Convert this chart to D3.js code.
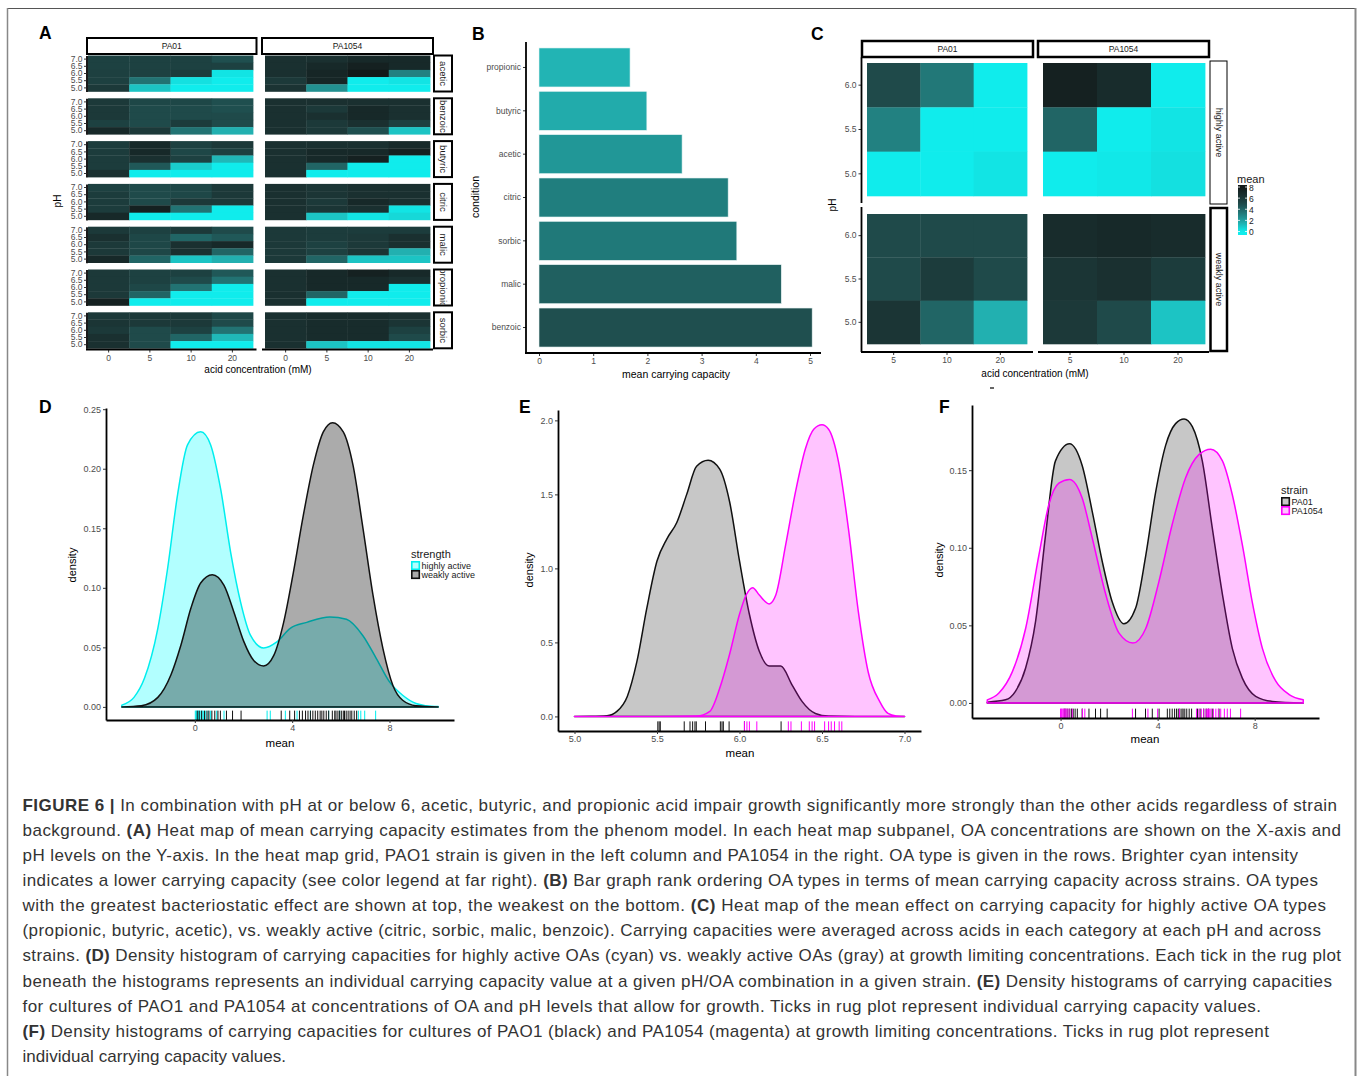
<!DOCTYPE html>
<html><head><meta charset="utf-8">
<script src="https://cdn.jsdelivr.net/npm/d3@7"></script>
<style>
body{margin:0;background:#fff}
svg{display:block}
text{font-family:"Liberation Sans",Arial,Helvetica,sans-serif}
</style>
</head><body>
<svg id="fig" width="1357" height="1076"></svg>
<script>
// ---------------- DATA ----------------
const acids = ["acetic","benzoic","butyric","citric","malic","propionic","sorbic"];
const strains = ["PA01","PA1054"];
const concLabels = ["0","5","10","20"];
const phLabels = ["7.0","6.5","6.0","5.5","5.0"]; // top to bottom

// Panel A: mean carrying capacity, rows pH 7.0 -> 5.0, columns 0,5,10,20 mM
const aceticPA01   = [[5.5,5.5,5.5,4.8],[5.5,5.5,5.5,5.5],[5.6,5.5,5.8,0.2],[5.6,3.5,0.3,0],[6.0,1.0,0,0]];
const aceticPA1054 = [[6.5,6.5,7.0,7.0],[6.5,7.0,7.5,7.0],[6.5,7.2,8.0,3.0],[6.0,7.2,0,0.2],[6.3,2.5,0,0]];
const benzoicPA01   = [[6.0,5.2,5.2,4.8],[6.0,5.0,5.0,4.8],[6.0,5.0,5.0,5.0],[5.5,5.0,5.8,5.0],[7.0,6.0,3.5,1.5]];
const benzoicPA1054 = [[6.5,6.5,6.5,6.5],[6.5,6.0,7.0,6.5],[6.5,6.5,7.0,6.5],[6.5,6.0,6.5,5.5],[6.5,6.0,4.8,1.0]];
const butyricPA01   = [[5.8,7.0,5.5,6.0],[5.8,7.0,5.2,5.5],[5.8,6.5,5.5,1.3],[5.8,4.5,0.8,0],[6.5,0,0,0]];
const butyricPA1054 = [[6.5,6.5,6.5,7.0],[6.5,7.0,7.0,7.5],[6.5,7.0,7.5,0],[6.5,4.0,0,0],[6.5,0,0,0]];
const citricPA01   = [[5.5,5.0,5.2,6.0],[5.8,5.0,5.2,6.0],[5.8,5.0,6.0,6.0],[5.8,7.5,3.5,0],[7.0,0,0,0]];
const citricPA1054 = [[6.5,6.2,6.5,6.5],[6.5,6.2,6.5,6.5],[6.5,6.0,7.0,6.5],[6.5,6.2,6.5,0.2],[6.5,1.0,0.2,0.5]];
const malicPA01   = [[6.0,5.5,6.0,5.0],[6.5,5.2,4.0,4.5],[6.0,5.2,6.5,7.0],[6.0,5.2,6.5,4.0],[7.0,4.0,1.0,1.5]];
const malicPA1054 = [[6.0,5.8,5.8,5.8],[6.0,5.8,6.0,6.5],[6.0,5.5,6.0,6.5],[6.0,5.5,6.2,1.5],[6.0,4.0,1.0,1.0]];
const propionicPA01   = [[6.0,5.5,5.5,4.5],[6.0,5.5,5.0,3.5],[6.0,5.2,3.5,0],[6.0,4.0,0,0],[7.5,0,0,0]];
const propionicPA1054 = [[6.5,7.0,7.5,7.0],[6.5,7.0,7.0,6.5],[6.5,7.0,7.0,0],[6.5,4.0,0,0],[6.5,0,0,0]];
const sorbicPA01   = [[6.0,6.0,6.0,5.2],[6.2,6.0,6.0,5.0],[6.0,5.0,5.5,3.5],[6.5,5.0,4.0,1.3],[6.5,5.0,0,0]];
const sorbicPA1054 = [[6.5,6.8,6.8,6.5],[6.5,6.8,6.8,6.2],[6.5,6.8,6.8,5.5],[6.5,6.8,6.8,5.0],[6.5,1.0,0.2,0.2]];

// Panel B
const barCats = ["propionic","butyric","acetic","citric","sorbic","malic","benzoic"];
const barVals = [1.68,1.99,2.64,3.49,3.65,4.47,5.04];
const barTicks = [0,1,2,3,4,5];

// Panel C: rows pH 6.0 -> 5.0, columns 5,10,20 mM
const strengths = ["highly active","weakly active"];
const concC = ["5","10","20"];
const phC = ["6.0","5.5","5.0"];
const highPA01   = [[5.0,3.3,0],[3.0,0,0],[0,0,0.2]];
const highPA1054 = [[7.5,6.8,0],[4.0,0,0.2],[0,0.1,0.3]];
const weakPA01   = [[5.0,5.0,5.0],[5.0,5.8,5.0],[6.2,4.0,1.5]];
const weakPA1054 = [[6.8,7.0,6.8],[6.2,6.5,5.8],[6.0,5.0,1.0]];
const legendTicks = [0,2,4,6,8];

// Panel D: densities
const dHighX = [-3,-2.5,-2.07,-1.52,-1.12,-0.71,-0.3,0.24,0.65,1.06,1.47,1.88,2.29,2.83,3.37,3.92,4.6,5.55,6.23,6.9,7.46,8.0,8.54,9.09,9.5,10];
const dHighY = [0.0015,0.008,0.024,0.066,0.116,0.178,0.22,0.231,0.22,0.183,0.130,0.088,0.060,0.0495,0.0546,0.066,0.071,0.0755,0.0736,0.060,0.0406,0.021,0.0098,0.0028,0.001,0.0003];
const dWeakX = [-3,-2.2,-1.52,-0.98,-0.57,-0.16,0.24,0.72,1.2,1.6,2.01,2.42,2.83,3.24,3.65,4.05,4.46,4.87,5.28,5.66,6.1,6.5,6.91,7.32,7.73,8.14,8.54,9.09,10];
const dWeakY = [0,0.001,0.008,0.027,0.052,0.083,0.104,0.111,0.102,0.080,0.055,0.039,0.0344,0.043,0.071,0.113,0.161,0.203,0.231,0.2387,0.231,0.203,0.150,0.094,0.049,0.018,0.0056,0.001,0];
const rugDHigh = [0.02,0.05,0.08,0.12,0.15,0.2,0.25,0.3,0.35,0.45,0.55,0.65,0.9,1.2,2.97,3.1,3.72,4.2,4.75,5.5,5.95,6.72,6.82,6.98,7.43];
const rugDWeak = [0.1,0.18,0.28,0.4,0.5,0.58,0.7,0.82,0.95,1.05,1.3,1.55,1.9,3.55,3.9,4.1,4.3,4.42,4.55,4.65,4.75,4.85,4.95,5.05,5.15,5.22,5.3,5.4,5.5,5.65,5.75,5.8,5.88,5.95,6.02,6.1,6.15,6.22,6.3,6.38,6.45,6.55,6.65];

// Panel E
const ePA01X = [5.0,5.1,5.197,5.257,5.32,5.378,5.438,5.5,5.56,5.62,5.68,5.74,5.81,5.88,5.94,6.0,6.06,6.12,6.18,6.25,6.32,6.38,6.46,6.54,6.7,7.0];
const ePA01Y = [0,0.001,0.005,0.034,0.135,0.37,0.73,1.05,1.20,1.31,1.50,1.69,1.73,1.67,1.45,1.05,0.69,0.44,0.34,0.34,0.21,0.10,0.02,0.002,0,0];
const ePA1054X = [5.0,5.5,5.74,5.82,5.88,5.94,6.0,6.04,6.08,6.12,6.18,6.22,6.28,6.34,6.40,6.45,6.5,6.54,6.6,6.66,6.72,6.78,6.85,6.9,6.95,7.0];
const ePA1054Y = [0,0,0.002,0.034,0.19,0.42,0.69,0.82,0.87,0.82,0.76,0.82,1.16,1.52,1.81,1.94,1.97,1.94,1.72,1.27,0.71,0.30,0.10,0.02,0.003,0];
const rugEPA01 = [5.505,5.513,5.52,5.665,5.70,5.716,5.73,5.738,5.794,5.884,5.894,5.902,5.937,6.03,6.252];
const rugEPA1054 = [6.03,6.045,6.06,6.105,6.296,6.312,6.375,6.423,6.44,6.455,6.516,6.54,6.556,6.576,6.604,6.62];

// Panel F
const fPA01X = [-3.02,-2.27,-1.86,-1.44,-1.03,-0.62,-0.21,0.37,0.89,1.31,1.72,2.13,2.61,3.09,3.51,3.92,4.33,4.74,5.09,5.43,5.84,6.25,6.67,7.08,7.49,8.04,8.73,10];
const fPA01Y = [0.0005,0.002,0.0075,0.0225,0.0526,0.108,0.156,0.167,0.153,0.123,0.091,0.065,0.051,0.061,0.095,0.136,0.166,0.180,0.183,0.178,0.156,0.113,0.070,0.035,0.016,0.0043,0.001,0];
const fPA1054X = [-3.02,-2.54,-1.99,-1.44,-0.89,-0.48,-0.07,0.37,0.89,1.31,1.86,2.41,2.98,3.51,4.05,4.6,5.15,5.7,6.19,6.67,7.08,7.49,7.9,8.32,8.87,9.42,10];
const fPA1054Y = [0.002,0.0064,0.020,0.048,0.0955,0.128,0.1416,0.144,0.132,0.106,0.070,0.045,0.0386,0.048,0.078,0.115,0.145,0.160,0.1635,0.156,0.134,0.102,0.065,0.035,0.014,0.0054,0.002];
const rugFPA01 = [0.15,0.22,0.3,0.38,0.45,0.52,0.6,0.69,0.89,1.17,1.44,1.65,1.92,3.09,3.5,3.78,4.06,4.4,4.5,4.6,4.7,4.78,4.85,4.92,5.0,5.05,5.12,5.2,5.3,5.4,5.64,5.75,5.9,6.0,6.1,6.25,6.53];
const rugFPA1054 = [0.0,0.03,0.06,0.1,0.14,0.18,0.22,0.27,0.35,0.48,0.9,1.0,2.96,3.6,4.0,4.9,5.6,5.7,5.8,5.9,6.0,6.05,6.1,6.15,6.2,6.3,6.4,6.5,6.6,6.75,6.87,7.0,7.42];

const captionLines = [
"**FIGURE 6 |** In combination with pH at or below 6, acetic, butyric, and propionic acid impair growth significantly more strongly than the other acids regardless of strain",
"background. **(A)** Heat map of mean carrying capacity estimates from the phenom model. In each heat map subpanel, OA concentrations are shown on the X-axis and",
"pH levels on the Y-axis. In the heat map grid, PAO1 strain is given in the left column and PA1054 in the right. OA type is given in the rows. Brighter cyan intensity",
"indicates a lower carrying capacity (see color legend at far right). **(B)** Bar graph rank ordering OA types in terms of mean carrying capacity across strains. OA types",
"with the greatest bacteriostatic effect are shown at top, the weakest on the bottom. **(C)** Heat map of the mean effect on carrying capacity for highly active OA types",
"(propionic, butyric, acetic), vs. weakly active (citric, sorbic, malic, benzoic). Carrying capacities were averaged across acids in each category at each pH and across",
"strains. **(D)** Density histogram of carrying capacities for highly active OAs (cyan) vs. weakly active OAs (gray) at growth limiting concentrations. Each tick in the rug plot",
"beneath the histograms represents an individual carrying capacity value at a given pH/OA combination in a given strain. **(E)** Density histograms of carrying capacities",
"for cultures of PAO1 and PA1054 at concentrations of OA and pH levels that allow for growth. Ticks in rug plot represent individual carrying capacity values.",
"**(F)** Density histograms of carrying capacities for cultures of PAO1 (black) and PA1054 (magenta) at growth limiting concentrations. Ticks in rug plot represent",
"individual carrying capacity values."
];
const captionEnds = [1337,1341,1298,1318,1326,1321,1341,1332,1261,1269,286];

// ---------------- DRAWING ----------------
const FONT = '"Liberation Sans",Arial,Helvetica,sans-serif';
const svg = d3.select("#fig");
const defs = svg.append("defs");
svg.append("rect").attr("width",1357).attr("height",1076).attr("fill","#fff");

const heatColor = d3.scaleLinear()
  .domain([0,1.5,3.3,5,6.5,8])
  .range(["#10ecec","#22b0b0","#227878","#1f4a4a","#1a3030","#121a1a"])
  .clamp(true);

function styleAxis(g, fs){
  g.attr("font-family",FONT).attr("font-size",fs);
  g.select(".domain").attr("stroke","#000").attr("stroke-width",1.8);
  g.selectAll(".tick line").attr("stroke","#333").attr("stroke-width",1);
  g.selectAll(".tick text").attr("fill","#4d4d4d");
}
function panelLabel(t,x,y){
  svg.append("text").attr("x",x).attr("y",y).attr("font-size",17.5).attr("font-weight","bold")
    .attr("fill","#000").text(t);
}
function axisTitle(t,x,y,rot,fs){
  const e = svg.append("text").attr("text-anchor","middle").attr("font-size",fs||10.5).attr("fill","#000").text(t);
  if(rot) e.attr("transform",`translate(${x},${y}) rotate(-90)`);
  else e.attr("x",x).attr("y",y);
}
function stripBox(x0,x1,y0,y1,label,vertical,sw,fs,clipId){
  svg.append("rect").attr("x",x0).attr("y",y0).attr("width",x1-x0).attr("height",y1-y0)
    .attr("fill","#fff").attr("stroke","#000").attr("stroke-width",sw);
  if(vertical){
    let holder = svg;
    if(clipId){
      defs.append("clipPath").attr("id",clipId).append("rect")
        .attr("x",x0+1).attr("y",y0+1).attr("width",x1-x0-2).attr("height",y1-y0-2);
      holder = svg.append("g").attr("clip-path",`url(#${clipId})`);
    }
    holder.append("text").attr("transform",`translate(${(x0+x1)/2},${(y0+y1)/2}) rotate(90)`)
      .attr("text-anchor","middle").attr("dominant-baseline","central").attr("font-size",fs)
      .attr("fill","#1a1a1a").text(label);
  } else {
    svg.append("text").attr("x",(x0+x1)/2).attr("y",(y0+y1)/2).attr("text-anchor","middle")
      .attr("dominant-baseline","central").attr("font-size",fs).attr("fill","#1a1a1a").text(label);
  }
}

// ===== Panel A =====
const heatA = {
  acetic:{PA01:aceticPA01,PA1054:aceticPA1054}, benzoic:{PA01:benzoicPA01,PA1054:benzoicPA1054},
  butyric:{PA01:butyricPA01,PA1054:butyricPA1054}, citric:{PA01:citricPA01,PA1054:citricPA1054},
  malic:{PA01:malicPA01,PA1054:malicPA1054}, propionic:{PA01:propionicPA01,PA1054:propionicPA1054},
  sorbic:{PA01:sorbicPA01,PA1054:sorbicPA1054}
};
panelLabel("A",39,39);
const aTile = {PA01:[88,253], PA1054:[265,430]};
const aPanel = {PA01:[86,256.5], PA1054:[262,433]};
const aRow0 = 55.5, aStep = 42.8, aH = 36;
const aX = {};
strains.forEach(s=> aX[s] = d3.scaleBand().domain(concLabels).range(aTile[s]));
stripBox(aPanel.PA01[0]+1,aPanel.PA01[1],38,54,"PA01",false,2,8.5);
stripBox(aPanel.PA1054[0],aPanel.PA1054[1],38,54,"PA1054",false,2,8.5);
acids.forEach((acid,i)=>{
  const top = aRow0 + i*aStep;
  const y = d3.scaleBand().domain(phLabels).range([top, top+aH]);
  strains.forEach(s=>{
    const x = aX[s], vals = heatA[acid][s];
    const g = svg.append("g");
    phLabels.forEach((ph,r)=>concLabels.forEach((c,k)=>{
      g.append("rect").attr("x",x(c)).attr("y",y(ph)).attr("width",x.bandwidth()+0.4)
        .attr("height",y.bandwidth()+0.3).attr("fill",heatColor(vals[r][k]));
    }));
  });
  const ax = svg.append("g").attr("transform","translate(86.5,0)")
    .call(d3.axisLeft(y).tickSize(2.5).tickSizeOuter(0).tickPadding(1.5));
  styleAxis(ax,8.5);
  stripBox(434,452,top,top+aH,acid,true,2,9.5,"clipA"+i);
});
strains.forEach(s=>{
  const ax = svg.append("g").attr("transform","translate(0,349.5)")
    .call(d3.axisBottom(aX[s]).tickSize(3).tickPadding(2));
  styleAxis(ax,8.5);
  ax.select(".domain").remove();
  svg.append("line").attr("x1",aPanel[s][0]).attr("x2",aPanel[s][1]).attr("y1",349.5).attr("y2",349.5)
    .attr("stroke","#000").attr("stroke-width",1.8);
});
axisTitle("pH",61,201,true,10);
axisTitle("acid concentration (mM)",258,373,false,10);

// ===== Panel B =====
panelLabel("B",472,40);
const bx = d3.scaleLinear().domain([0,5]).range([539,810]);
const by = d3.scaleBand().domain(barCats).range([45.8,349.2]).paddingInner(0.1).paddingOuter(0.05);
const barColor = d3.scaleLinear().domain([d3.min(barVals),d3.max(barVals)]).range(["#22b4b4","#1f4f4f"]);
barCats.forEach((c,i)=>{
  svg.append("rect").attr("x",bx(0)).attr("y",by(c)).attr("width",bx(barVals[i])-bx(0))
    .attr("height",by.bandwidth()).attr("fill",barColor(barVals[i]))
    .attr("stroke","#e8f4f4").attr("stroke-width",0.6);
});
{
  const ay = svg.append("g").attr("transform","translate(526,0)")
    .call(d3.axisLeft(by).tickSize(3).tickSizeOuter(0).tickPadding(2));
  styleAxis(ay,8.5);
  ay.select(".domain").remove();
  svg.append("line").attr("x1",526).attr("x2",526).attr("y1",42).attr("y2",353.5).attr("stroke","#000").attr("stroke-width",1.8);
  const axb = svg.append("g").attr("transform","translate(0,353)")
    .call(d3.axisBottom(bx).tickValues(barTicks).tickFormat(d3.format("d")).tickSize(3).tickPadding(2));
  styleAxis(axb,8.5);
  axb.select(".domain").remove();
  svg.append("line").attr("x1",525).attr("x2",821).attr("y1",353).attr("y2",353).attr("stroke","#000").attr("stroke-width",1.8);
  axisTitle("condition",479,197,true,10.5);
  axisTitle("mean carrying capacity",676,378,false,10.5);
}

// ===== Panel C =====
panelLabel("C",811,40);
const heatC = {"highly active":{PA01:highPA01,PA1054:highPA1054},"weakly active":{PA01:weakPA01,PA1054:weakPA1054}};
const cTile = {PA01:[867,1027], PA1054:[1043,1205]};
const cPanel = {PA01:[861,1033], PA1054:[1038,1209]};
const cRows = {"highly active":[63,196], "weakly active":[214,344]};
const cAxisY = {"highly active":[57.5,203], "weakly active":[207,352]};
const cX = {};
strains.forEach(s=> cX[s] = d3.scaleBand().domain(concC).range(cTile[s]));
stripBox(862,1033,41,57,"PA01",false,2.5,8.5);
stripBox(1038,1209,41,57,"PA1054",false,2.5,8.5);
strengths.forEach((st,si)=>{
  const y = d3.scaleBand().domain(phC).range(cRows[st]);
  strains.forEach(s=>{
    const x = cX[s], vals = heatC[st][s];
    phC.forEach((ph,r)=>concC.forEach((c,k)=>{
      svg.append("rect").attr("x",x(c)).attr("y",y(ph)).attr("width",x.bandwidth()+0.4)
        .attr("height",y.bandwidth()+0.3).attr("fill",heatColor(vals[r][k]));
    }));
  });
  const ax = svg.append("g").attr("transform","translate(861.5,0)")
    .call(d3.axisLeft(y).tickSize(3).tickSizeOuter(0).tickPadding(2));
  styleAxis(ax,8.5);
  ax.select(".domain").remove();
  svg.append("line").attr("x1",861.5).attr("x2",861.5).attr("y1",cAxisY[st][0]).attr("y2",cAxisY[st][1])
    .attr("stroke","#000").attr("stroke-width",1.8);
});
stripBox(1210,1227,61,204,"highly active",true,1,9);
stripBox(1210.5,1227,208,351,"weakly active",true,2.5,9);
strains.forEach(s=>{
  const ax = svg.append("g").attr("transform","translate(0,352)")
    .call(d3.axisBottom(cX[s]).tickSize(3).tickPadding(2));
  styleAxis(ax,8.5);
  ax.select(".domain").remove();
  svg.append("line").attr("x1",cPanel[s][0]).attr("x2",cPanel[s][1]).attr("y1",352).attr("y2",352)
    .attr("stroke","#000").attr("stroke-width",1.8);
});
axisTitle("pH",836,205,true,10);
axisTitle("acid concentration (mM)",1035,377,false,10);
svg.append("line").attr("x1",990).attr("x2",994).attr("y1",388).attr("y2",388).attr("stroke","#333").attr("stroke-width",1.5);
// colour legend
{
  const ly = d3.scaleLinear().domain([0,8]).range([231.5,187]);
  const lo = ly.invert(235), hi = ly.invert(185);
  const grad = defs.append("linearGradient").attr("id","cgrad")
    .attr("x1",0).attr("x2",0).attr("y1",1).attr("y2",0);
  d3.range(0,21).forEach(i=>{
    const v = lo + (hi-lo)*i/20;
    grad.append("stop").attr("offset",i/20).attr("stop-color",heatColor(v));
  });
  svg.append("rect").attr("x",1238).attr("y",185).attr("width",9).attr("height",50).attr("fill","url(#cgrad)");
  legendTicks.forEach(t=>{
    svg.append("line").attr("x1",1238).attr("x2",1240).attr("y1",ly(t)).attr("y2",ly(t)).attr("stroke","#fff").attr("stroke-width",0.8);
    svg.append("line").attr("x1",1245).attr("x2",1247).attr("y1",ly(t)).attr("y2",ly(t)).attr("stroke","#fff").attr("stroke-width",0.8);
    svg.append("text").attr("x",1249).attr("y",ly(t)+0.5).attr("dominant-baseline","central")
      .attr("font-size",8.5).attr("fill","#1a1a1a").text(t);
  });
  svg.append("text").attr("x",1237).attr("y",183).attr("font-size",11).attr("fill","#1a1a1a").text("mean");
}

// ===== Density panels =====
function densityPanel(o){
  const x = d3.scaleLinear().domain(o.xdom).range(o.xr);
  const y = d3.scaleLinear().domain(o.ydom).range(o.yr);
  const g = svg.append("g");
  o.series.forEach(s=>{
    const pts = s.x.map((v,i)=>[v,s.y[i]]);
    const area = d3.area().x(d=>x(d[0])).y0(y(0)).y1(d=>y(d[1])).curve(d3.curveMonotoneX);
    g.append("path").attr("d",area(pts)).attr("fill",s.fill).attr("fill-opacity",s.alpha)
      .attr("stroke",s.stroke).attr("stroke-width",1.5).attr("stroke-linejoin","round");
  });
  const rb = o.yr[0], rt = o.yr[0] - 0.03*(o.yr[0]-o.yr[1]);
  o.series.forEach(s=>{
    s.rug.forEach(v=>{
      g.append("line").attr("x1",x(v)).attr("x2",x(v)).attr("y1",rb).attr("y2",rt)
        .attr("stroke",s.stroke).attr("stroke-width",1);
    });
  });
  const ay = svg.append("g").attr("transform",`translate(${o.xr[0]},0)`)
    .call(d3.axisLeft(y).tickValues(o.yticks).tickFormat(d3.format(o.yfmt)).tickSize(3).tickSizeOuter(0).tickPadding(2));
  styleAxis(ay,9);
  const ax = svg.append("g").attr("transform",`translate(0,${o.yr[0]})`)
    .call(d3.axisBottom(x).tickValues(o.xticks).tickFormat(d3.format(o.xfmt)).tickSize(3).tickSizeOuter(0).tickPadding(2));
  styleAxis(ax,9);
  axisTitle("density",o.dens[0],o.dens[1],true,11);
  axisTitle("mean",o.mean[0],o.mean[1],false,11.5);
  if(o.legend){
    const L = o.legend;
    svg.append("text").attr("x",L.x).attr("y",L.y).attr("font-size",11).attr("fill","#1a1a1a").text(L.title);
    o.series.forEach((s,i)=>{
      const ky = L.y + 3 + i*9;
      svg.append("rect").attr("x",L.x+0.8).attr("y",ky+0.8).attr("width",7.5).attr("height",7.5)
        .attr("fill",s.fill).attr("fill-opacity",s.alpha).attr("stroke",s.stroke).attr("stroke-width",1.6);
      svg.append("text").attr("x",L.x+10.5).attr("y",ky+4.6).attr("dominant-baseline","central")
        .attr("font-size",9).attr("fill","#1a1a1a").text(s.name);
    });
  }
}

panelLabel("D",39,413);
densityPanel({
  xdom:[-3.65,10.65], xr:[106,454], ydom:[-0.011,0.251], yr:[720,408],
  yticks:[0,0.05,0.10,0.15,0.20,0.25], yfmt:".2f", xticks:[0,4,8], xfmt:"d",
  series:[
    {name:"highly active", x:dHighX, y:dHighY, fill:"#00ffff", alpha:0.3, stroke:"#00eeee", rug:rugDHigh},
    {name:"weakly active", x:dWeakX, y:dWeakY, fill:"#000", alpha:0.33, stroke:"#111", rug:rugDWeak}
  ],
  dens:[76,565], mean:[280,747],
  legend:{title:"strength", x:411, y:558}
});

panelLabel("E",519,413);
densityPanel({
  xdom:[4.9,7.1], xr:[558,921], ydom:[-0.0985,2.07], yr:[731,410],
  yticks:[0,0.5,1.0,1.5,2.0], yfmt:".1f", xticks:[5.0,5.5,6.0,6.5,7.0], xfmt:".1f",
  series:[
    {name:"PA01", x:ePA01X, y:ePA01Y, fill:"#000", alpha:0.22, stroke:"#111", rug:rugEPA01},
    {name:"PA1054", x:ePA1054X, y:ePA1054Y, fill:"#ff00ff", alpha:0.23, stroke:"#ff00ff", rug:rugEPA1054}
  ],
  dens:[533,570], mean:[740,757]
});

panelLabel("F",939,413);
densityPanel({
  xdom:[-3.65,10.65], xr:[972,1319], ydom:[-0.0097,0.192], yr:[718,405],
  yticks:[0,0.05,0.10,0.15], yfmt:".2f", xticks:[0,4,8], xfmt:"d",
  series:[
    {name:"PA01", x:fPA01X, y:fPA01Y, fill:"#000", alpha:0.22, stroke:"#111", rug:rugFPA01},
    {name:"PA1054", x:fPA1054X, y:fPA1054Y, fill:"#ff00ff", alpha:0.23, stroke:"#ff00ff", rug:rugFPA1054}
  ],
  dens:[943,560], mean:[1145,743],
  legend:{title:"strain", x:1281, y:494}
});

// ===== Caption =====
captionLines.forEach((line,i)=>{
  const t = svg.append("text").attr("x",22.5).attr("y",810.5 + i*25.15)
    .attr("font-size",17).attr("fill","#333")
    .attr("textLength",captionEnds[i]-22.5).attr("lengthAdjust","spacing");
  line.split("**").forEach((part,j)=>{
    if(part.length===0) return;
    t.append("tspan").attr("font-weight", j%2===1 ? "bold" : "normal").text(part);
  });
});

// ===== Frame =====
svg.append("line").attr("x1",7).attr("x2",1356).attr("y1",8.5).attr("y2",8.5).attr("stroke","#555").attr("stroke-width",1.2);
svg.append("line").attr("x1",7.5).attr("x2",7.5).attr("y1",8).attr("y2",1076).attr("stroke","#888").attr("stroke-width",1.5);
svg.append("line").attr("x1",1355.5).attr("x2",1355.5).attr("y1",8).attr("y2",1076).attr("stroke","#888").attr("stroke-width",2);
</script>
</body></html>
